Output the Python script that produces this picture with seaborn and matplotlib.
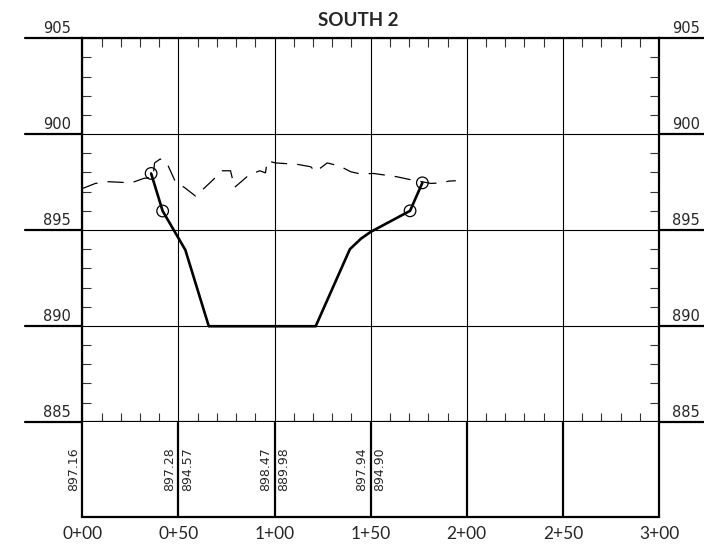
import matplotlib
matplotlib.use("Agg")
import matplotlib.pyplot as plt
from matplotlib.ticker import MultipleLocator
import seaborn as sns
import pandas as pd

# existing ground profile (station ft, elevation ft)
ground_sta = [0, 6.8, 13.7, 25.5, 31.9, 36.8, 37.6, 40.5, 43.7, 48.4, 53.1, 58.9,
              62.3, 67.0, 72.8, 77.1, 79.2, 86.6, 92.3, 95.3, 96.2, 100.5, 112.1,
              118.8, 121.4, 127.4, 134.0, 139.6, 144.8, 151.4, 163.5, 170.0,
              181.3, 187.3, 190.6, 194.3]
ground_elev = [897.16, 897.43, 897.52, 897.46, 897.69, 897.75, 898.5, 898.7, 898.56,
               897.52, 897.22, 896.77, 897.08, 897.52, 898.09, 898.09, 897.22,
               897.86, 898.09, 897.98, 898.61, 898.5, 898.42, 898.3, 898.04, 898.5,
               898.33, 898.04, 897.92, 897.95, 897.78, 897.64, 897.43, 897.46,
               897.55, 897.57]

# proposed section
prop_sta = [35.8, 41.8, 53.6, 65.8, 121.4, 139.2, 145.0, 150.0, 170.5, 176.9]
prop_elev = [897.95, 895.99, 893.96, 889.98, 889.98, 894.0, 894.55, 894.90, 896.0, 897.46]

# catch points (circles)
catch_sta = [35.8, 41.8, 170.5, 176.9]
catch_elev = [897.95, 895.99, 896.0, 897.46]

# table values at stations
table_sta = [0, 50, 100, 150]
table_exist = ["897.16", "897.28", "898.47", "897.94"]
table_prop = ["", "894.57", "889.98", "894.90"]

stations = [0, 50, 100, 150, 200, 250, 300]
station_labels = ["0+00", "0+50", "1+00", "1+50", "2+00", "2+50", "3+00"]
elev_labels = [905, 900, 895, 890, 885]

sns.set_style("white")
plt.rcParams['font.family'] = ['DejaVu Sans']

fig = plt.figure(figsize=(7.04, 5.5), dpi=100)
ax = fig.add_axes([82.3 / 704, (550 - 421.7) / 550, 576.7 / 704, 383.4 / 550])
tab = fig.add_axes([82.3 / 704, (550 - 517.3) / 550, 576.7 / 704, 95.6 / 550])

ground = pd.DataFrame({"sta": ground_sta, "elev": ground_elev})
prop = pd.DataFrame({"sta": prop_sta, "elev": prop_elev})
catch = pd.DataFrame({"sta": catch_sta, "elev": catch_elev})

sns.lineplot(data=ground, x="sta", y="elev", ax=ax, sort=False, color="black",
             lw=0.9, linestyle=(0, (13, 8)))
sns.lineplot(data=prop, x="sta", y="elev", ax=ax, sort=False, color="black", lw=1.9)
sns.scatterplot(data=catch, x="sta", y="elev", ax=ax, s=70, facecolor="none",
                edgecolor="black", linewidth=0.9, zorder=5)

ax.set_xlim(0, 300)
ax.set_ylim(885, 905)
ax.set_xlabel("")
ax.set_ylabel("")
ax.xaxis.set_major_locator(MultipleLocator(50))
ax.xaxis.set_minor_locator(MultipleLocator(10))
ax.yaxis.set_major_locator(MultipleLocator(5))
ax.yaxis.set_minor_locator(MultipleLocator(1))
ax.grid(which="major", color="black", lw=0.8)
ax.tick_params(which="major", length=0, labelbottom=False, labelleft=False)
ax.tick_params(which="minor", direction="in", length=6.5, width=0.8, color="#333333",
               top=True, bottom=True, left=True, right=True)
for side in ["left", "right", "top", "bottom"]:
    ax.spines[side].set_color("black")
    ax.spines[side].set_linewidth(1.6)

ytr = ax.get_yaxis_transform()
for e in elev_labels:
    lw = 1.6
    ax.plot([-0.099, 0], [e, e], transform=ytr, clip_on=False, color="black", lw=lw)
    ax.plot([1, 1.08], [e, e], transform=ytr, clip_on=False, color="black", lw=lw)
    ax.text(-0.02, e + 0.1, str(e), transform=ytr, ha="right", va="bottom", fontsize=10.5)
    ax.text(1.022, e + 0.1, str(e), transform=ytr, ha="left", va="bottom", fontsize=10.5)

ax.set_title("SOUTH 2", fontsize=13.5, fontweight="bold", family="Lato", pad=9, x=0.479)

# table below the profile
tab.set_xlim(0, 300)
tab.set_ylim(0, 1)
for s in stations:
    tab.axvline(s, color="black", lw=1.6, clip_on=False)
for side in ["left", "right", "top"]:
    tab.spines[side].set_visible(False)
tab.spines["bottom"].set_linewidth(1.6)
tab.spines["bottom"].set_color("black")
tab.set_yticks([])
tab.set_xticks(stations)
tab.set_xticklabels(station_labels, fontsize=12.5, family="Lato")
tab.tick_params(axis="x", length=0, pad=6)
for s, ex, pr in zip(table_sta, table_exist, table_prop):
    tab.text(s - 1.2, 0.5, ex, rotation=90, ha="right", va="center", fontsize=9)
    if pr:
        tab.text(s + 1.2, 0.5, pr, rotation=90, ha="left", va="center", fontsize=9)

fig.savefig("out.png", dpi=100)
